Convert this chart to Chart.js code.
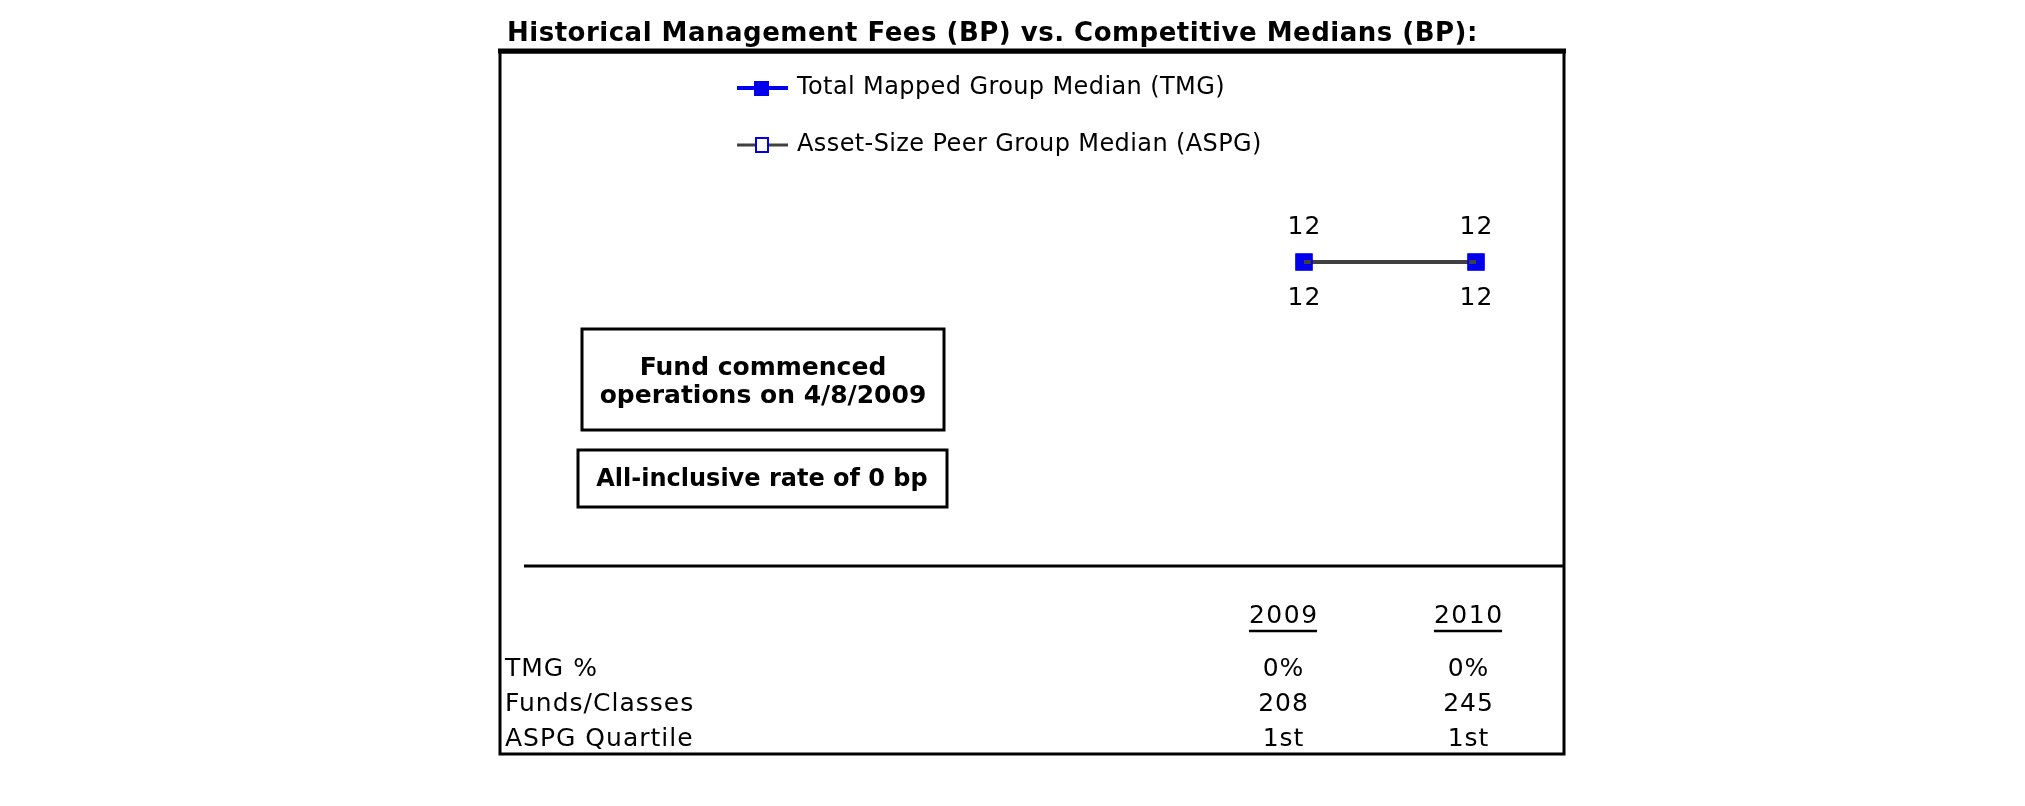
<!DOCTYPE html>
<html>
<head>
<meta charset="utf-8">
<script src="https://cdn.jsdelivr.net/npm/chart.js@4.4.1/dist/chart.umd.min.js"></script>
<style>
  html, body { margin: 0; padding: 0; background: #fff; }
  #wrap { width: 2025px; height: 806px; position: relative; }
</style>
</head>
<body>
<div id="wrap"><canvas id="feeChart" width="2025" height="806"></canvas></div>
<script>
  // chart data
  const years = ["2009", "2010"];
  const tmgMedian = [12, 12];
  const aspgMedian = [12, 12];

  // stats table under the chart
  const rowLabels = ["TMG %", "Funds/Classes", "ASPG Quartile"];
  const tmgPct = ["0%", "0%"];
  const fundsClasses = ["208", "245"];
  const aspgQuartile = ["1st", "1st"];

  const titleText = "Historical Management Fees (BP) vs. Competitive Medians (BP):";
  const noteLines = ["Fund commenced", "operations on 4/8/2009"];
  const rateNote = "All-inclusive rate of 0 bp";

  const BLUE = "#0000ee";
  const GRAY = "#404040";
  const FONT = '"DejaVu Sans", Verdana, sans-serif';

  // centred text, ignoring the trailing letter spacing
  function centerText(ctx, txt, x, y, sp) {
    ctx.letterSpacing = sp + "px";
    const w = ctx.measureText(txt).width - sp;
    ctx.textAlign = "left";
    ctx.fillText(txt, x - w / 2, y);
    return w;
  }

  const decor = {
    id: "decor",
    beforeDraw(chart) {
      const ctx = chart.ctx;
      ctx.save();
      ctx.fillStyle = "#fff";
      ctx.fillRect(0, 0, chart.width, chart.height);

      // title
      ctx.fillStyle = "#000";
      ctx.font = "bold 26px " + FONT;
      ctx.letterSpacing = "0.5px";
      ctx.textBaseline = "middle";
      ctx.textAlign = "left";
      ctx.fillText(titleText, 507, 34);
      ctx.letterSpacing = "0px";

      // frame
      ctx.strokeStyle = "#000";
      ctx.lineWidth = 3;
      ctx.strokeRect(500, 52, 1064, 702);
      ctx.lineWidth = 5;
      ctx.beginPath();
      ctx.moveTo(498, 51);
      ctx.lineTo(1566, 51);
      ctx.stroke();

      // legend
      const legend = [
        { label: "Total Mapped Group Median (TMG)", y: 88, line: BLUE, lw: 4, fill: BLUE },
        { label: "Asset-Size Peer Group Median (ASPG)", y: 145, line: GRAY, lw: 3, fill: null },
      ];
      legend.forEach((l) => {
        ctx.strokeStyle = l.line;
        ctx.lineWidth = l.lw;
        ctx.beginPath();
        ctx.moveTo(737, l.y);
        ctx.lineTo(788, l.y);
        ctx.stroke();
        if (l.fill) {
          ctx.fillStyle = l.fill;
          ctx.fillRect(754, l.y - 7, 15, 15);
        } else {
          ctx.fillStyle = "#fff";
          ctx.fillRect(756, l.y - 7, 12, 14);
          ctx.strokeStyle = BLUE;
          ctx.lineWidth = 2;
          ctx.strokeRect(756, l.y - 7, 12, 14);
        }
        ctx.fillStyle = "#000";
        ctx.font = "24px " + FONT;
        ctx.letterSpacing = "0.4px";
        ctx.textAlign = "left";
        ctx.fillText(l.label, 797, l.y);
        ctx.letterSpacing = "0px";
      });

      // note boxes
      ctx.lineWidth = 3;
      ctx.strokeStyle = "#000";
      ctx.strokeRect(582, 329, 362, 101);
      ctx.strokeRect(578, 450, 369, 57);
      ctx.fillStyle = "#000";
      ctx.font = "bold 25px " + FONT;
      centerText(ctx, noteLines[0], 763, 368, 0);
      centerText(ctx, noteLines[1], 763, 396, 0);
      ctx.font = "bold 24px " + FONT;
      centerText(ctx, rateNote, 762, 480, 0);

      // separator
      ctx.lineWidth = 3;
      ctx.beginPath();
      ctx.moveTo(524, 566);
      ctx.lineTo(1563, 566);
      ctx.stroke();

      // table
      const colX = [1283, 1468];
      ctx.font = "25px " + FONT;
      years.forEach((y, i) => {
        const w = centerText(ctx, y, colX[i], 616, 1.5);
        ctx.lineWidth = 2.5;
        ctx.beginPath();
        ctx.moveTo(colX[i] - w / 2, 631);
        ctx.lineTo(colX[i] + w / 2, 631);
        ctx.stroke();
      });
      const rows = [tmgPct, fundsClasses, aspgQuartile];
      const rowY = [669, 704, 739];
      rows.forEach((vals, r) => {
        ctx.letterSpacing = "1px";
        ctx.textAlign = "left";
        ctx.fillText(rowLabels[r], 505, rowY[r]);
        vals.forEach((v, i) => centerText(ctx, v, colX[i], rowY[r], 1));
      });
      ctx.letterSpacing = "0px";
      ctx.restore();
    },
    afterDatasetsDraw(chart) {
      const ctx = chart.ctx;
      ctx.save();
      ctx.fillStyle = "#000";
      ctx.font = "25px " + FONT;
      ctx.textBaseline = "middle";
      chart.data.datasets.forEach((ds, di) => {
        const meta = chart.getDatasetMeta(di);
        meta.data.forEach((pt, i) => {
          const dy = ds.labelAbove ? -35 : 36;
          centerText(ctx, String(ds.data[i]), pt.x, pt.y + dy, 1);
        });
      });
      ctx.letterSpacing = "0px";
      ctx.restore();
    },
  };

  new Chart(document.getElementById("feeChart").getContext("2d"), {
    type: "line",
    data: {
      labels: years,
      datasets: [
        {
          label: "Total Mapped Group Median (TMG)",
          data: tmgMedian,
          borderColor: BLUE,
          borderWidth: 4,
          pointStyle: "rect",
          pointRadius: 11,
          pointBackgroundColor: BLUE,
          pointBorderColor: BLUE,
          pointBorderWidth: 1,
          labelAbove: true,
          order: 1,
        },
        {
          label: "Asset-Size Peer Group Median (ASPG)",
          data: aspgMedian,
          borderColor: GRAY,
          borderWidth: 4,
          pointStyle: "rect",
          pointRadius: 11,
          pointBackgroundColor: "rgba(0,0,0,0)",
          pointBorderColor: BLUE,
          pointBorderWidth: 2,
          labelAbove: false,
          order: 0,
        },
      ],
    },
    options: {
      responsive: false,
      animation: false,
      devicePixelRatio: 1,
      layout: { padding: { left: 1218, right: 463, top: 50, bottom: 332 } },
      plugins: { legend: { display: false }, tooltip: { enabled: false } },
      scales: {
        x: { type: "category", offset: true, display: false },
        y: { min: 0, max: 24, display: false },
      },
    },
    plugins: [decor],
  });
</script>
</body>
</html>
